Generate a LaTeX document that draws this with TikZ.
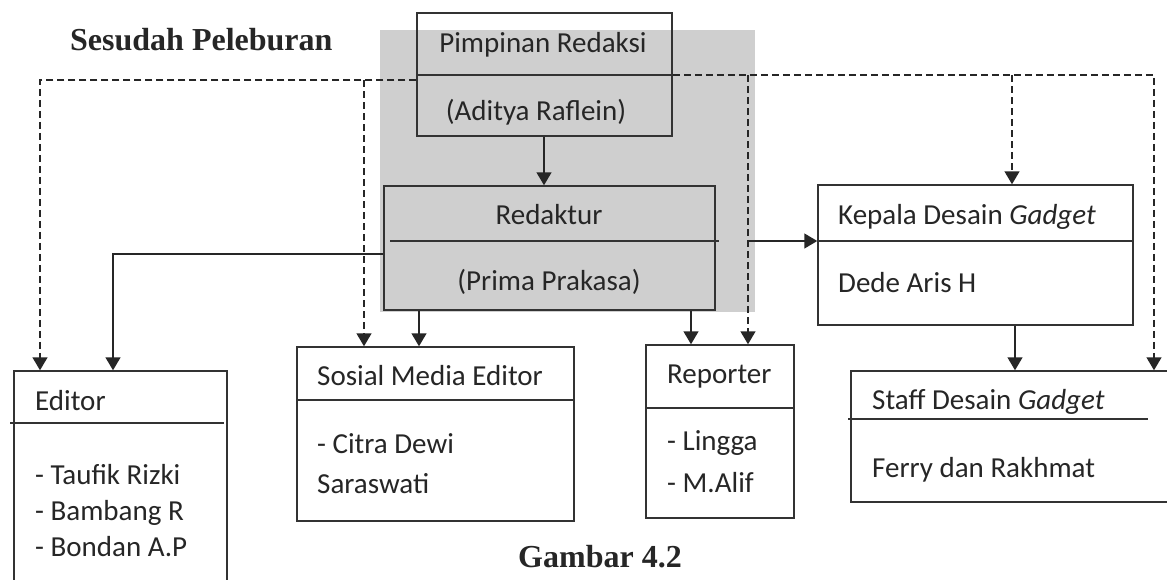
\documentclass[tikz,border=0pt]{standalone}
\usepackage{fontspec}
\setmainfont{Carlito}
\newfontfamily\capfont{Liberation Serif}
\usetikzlibrary{arrows.meta}

\tikzset{
  unit/.style={draw=black!80, line width=1.5pt, rectangle, inner sep=0pt},
  sep/.style={draw=black!80, line width=1.5pt},
  arr/.style={draw=black!85, line width=1.5pt, -{Triangle[length=13pt,width=15pt]}},
  dsh/.style={arr, dash pattern=on 7pt off 4pt},
  lbl/.style={font=\fontsize{29}{35}\selectfont, text=black!85, inner sep=0pt},
  caption/.style={font=\capfont\bfseries\fontsize{32}{38}\selectfont, text=black!85, inner sep=0pt}
}

\begin{document}
\begin{tikzpicture}[x=1pt,y=-1pt]
\useasboundingbox[fill=white] (0,0) rectangle (1167,579);
% shaded area behind the two top units
\fill[black!19] (380,30) rectangle (755,312);

% units
\node[unit, minimum width=255pt, minimum height=123pt] (pr) at (544.5,74.5) {};
\node[unit, minimum width=331pt, minimum height=124pt] (red) at (549.5,248) {};
\node[unit, minimum width=213pt, minimum height=229pt] (ed) at (120.5,485.5) {};
\node[unit, minimum width=277pt, minimum height=174pt] (sme) at (435.5,434) {};
\node[unit, minimum width=148pt, minimum height=173pt] (rep) at (720,431.5) {};
\node[unit, minimum width=315pt, minimum height=140pt] (kd) at (975.5,255) {};
\node[unit, minimum width=349pt, minimum height=131pt] (sd) at (1025.5,436.5) {};

% dividers
\draw[sep] (417,75) -- (672,75);
\draw[sep] (390,241) -- (719,241);
\draw[sep] (10,423) -- (224,423);
\draw[sep] (297,400) -- (574,400);
\draw[sep] (646,408) -- (794,408);
\draw[sep] (818,241) -- (1132,241);
\draw[sep] (848,419) -- (1148,419);

% texts
\node[caption, anchor=base west] (ttl) at (70,50) {Sesudah Peleburan};
\node[caption, anchor=base west] (fig) at (518,567) {Gambar 4.2};

\node[lbl, anchor=base] (prA) at (543,52) {Pimpinan Redaksi};
\node[lbl, anchor=base] (prB) at (536,120) {(Aditya Raflein)};
\node[lbl, anchor=base] (redA) at (549,224) {Redaktur};
\node[lbl, anchor=base] (redB) at (549,290) {(Prima Prakasa)};
\node[lbl, anchor=base west] (edA) at (35,410) {Editor};
\node[lbl, anchor=base west] (edB) at (35,484) {- Taufik Rizki};
\node[lbl, anchor=base west] (edC) at (35,520) {- Bambang R};
\node[lbl, anchor=base west] (edD) at (35,556) {- Bondan A.P};
\node[lbl, anchor=base west] (smeA) at (317,385) {Sosial Media Editor};
\node[lbl, anchor=base west] (smeB) at (317,453) {- Citra Dewi};
\node[lbl, anchor=base west] (smeC) at (317,493) {Saraswati};
\node[lbl, anchor=base west] (repA) at (667,383) {Reporter};
\node[lbl, anchor=base west] (repB) at (667,450) {- Lingga};
\node[lbl, anchor=base west] (repC) at (667,492) {- M.Alif};
\node[lbl, anchor=base west] (kdA) at (838,224) {Kepala Desain \textit{Gadget}};
\node[lbl, anchor=base west] (kdB) at (838,292) {Dede Aris H};
\node[lbl, anchor=base west] (sdA) at (872,409) {Staff Desain \textit{Gadget}};
\node[lbl, anchor=base west] (sdB) at (872,477) {Ferry dan Rakhmat};

% solid lines of command
\draw[arr] (pr.south -| 544,0) -- (red.north -| 544,0);
\draw[arr] (red.west |- 0,254) -| (ed.north -| 113,0);
\draw[arr] (red.south -| 419,0) -- (sme.north -| 419,0);
\draw[arr] (red.south -| 691,0) -- (rep.north -| 691,0);
\draw[arr] (kd.south -| 1015,0) -- (sd.north -| 1015,0);
\coordinate (jH) at (748,241);
\draw[arr] (jH) -- (kd.west |- jH);

% dashed lines of coordination
\draw[dsh] (pr.west |- 0,80) -| (ed.north -| 40,0);
\coordinate (jL) at (364,80);
\draw[dsh] (jL) -- (sme.north -| jL);
\draw[dsh] (pr.east |- 0,75) -| (sd.north -| 1154,0);
\coordinate (jR1) at (748,75);
\draw[dsh] (jR1) -- (rep.north -| jR1);
\coordinate (jR2) at (1012,75);
\draw[dsh] (jR2) -- (kd.north -| jR2);

\end{tikzpicture}
\end{document}
